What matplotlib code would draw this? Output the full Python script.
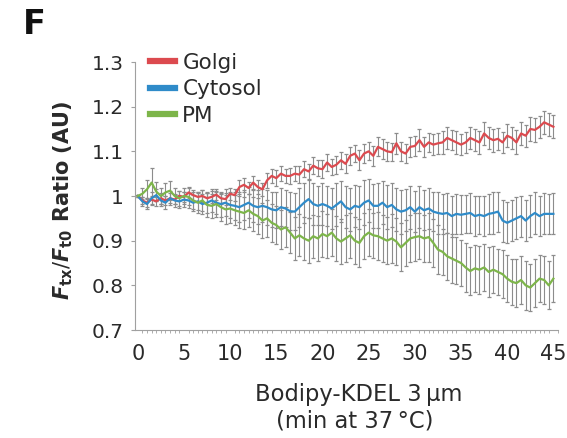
import numpy as np
import matplotlib
matplotlib.use("Agg")
import matplotlib.pyplot as plt
from matplotlib.ticker import MultipleLocator

plt.rcParams['font.family'] = ['DejaVu Sans']
plt.rcParams['mathtext.fontset'] = 'custom'
plt.rcParams['mathtext.rm'] = 'DejaVu Sans'
plt.rcParams['mathtext.it'] = 'DejaVu Sans:italic'
plt.rcParams['mathtext.bf'] = 'DejaVu Sans:bold'
try:
    plt.rcParams['mathtext.bfit'] = 'DejaVu Sans:italic:bold'
except KeyError:
    pass

time_min = np.arange(0, 45.01, 0.5)

golgi = [1.000, 0.990, 0.985, 0.992, 0.988, 0.995, 0.990, 0.995, 0.992, 1.000,
         0.998, 1.008, 1.002, 0.998, 1.000, 0.995, 0.998, 1.003, 0.995, 0.993,
         1.005, 1.002, 1.020, 1.025, 1.018, 1.030, 1.020, 1.015, 1.035, 1.045,
         1.040, 1.050, 1.045, 1.045, 1.050, 1.048, 1.060, 1.055, 1.068, 1.062,
         1.060, 1.075, 1.065, 1.070, 1.080, 1.072, 1.090, 1.095, 1.080, 1.095,
         1.100, 1.090, 1.110, 1.105, 1.100, 1.098, 1.118, 1.100, 1.095, 1.110,
         1.112, 1.125, 1.110, 1.120, 1.115, 1.118, 1.120, 1.130, 1.125, 1.120,
         1.115, 1.120, 1.130, 1.125, 1.120, 1.140, 1.130, 1.125, 1.128, 1.120,
         1.135, 1.130, 1.120, 1.140, 1.135, 1.150, 1.148, 1.155, 1.165, 1.160,
         1.155]
golgi_err = [0.003, 0.008, 0.010, 0.009, 0.010, 0.012, 0.010, 0.011, 0.010, 0.012,
             0.012, 0.013, 0.011, 0.012, 0.013, 0.012, 0.014, 0.013, 0.012, 0.013,
             0.014, 0.013, 0.015, 0.016, 0.014, 0.015, 0.016, 0.015, 0.017, 0.016,
             0.018, 0.017, 0.016, 0.018, 0.017, 0.019, 0.018, 0.017, 0.019, 0.018,
             0.020, 0.019, 0.018, 0.020, 0.019, 0.021, 0.020, 0.019, 0.022, 0.021,
             0.020, 0.022, 0.021, 0.023, 0.022, 0.020, 0.024, 0.022, 0.021, 0.023,
             0.022, 0.024, 0.023, 0.022, 0.024, 0.023, 0.025, 0.024, 0.023, 0.025,
             0.024, 0.023, 0.025, 0.024, 0.026, 0.025, 0.024, 0.026, 0.025, 0.024,
             0.026, 0.025, 0.027, 0.026, 0.025, 0.027, 0.026, 0.025, 0.026, 0.025,
             0.026]

cytosol = [1.000, 0.988, 0.982, 0.995, 1.002, 0.990, 0.985, 0.995, 0.990, 0.988,
           0.992, 0.990, 0.985, 0.988, 0.982, 0.985, 0.990, 0.985, 0.982, 0.985,
           0.980, 0.978, 0.975, 0.980, 0.985, 0.978, 0.975, 0.978, 0.975, 0.970,
           0.968, 0.975, 0.972, 0.966, 0.965, 0.975, 0.985, 0.993, 0.982, 0.978,
           0.982, 0.978, 0.972, 0.980, 0.988, 0.975, 0.970, 0.978, 0.975, 0.985,
           0.990, 0.978, 0.978, 0.985, 0.975, 0.980, 0.970, 0.965, 0.968, 0.975,
           0.965, 0.975, 0.968, 0.972, 0.965, 0.962, 0.960, 0.962, 0.955, 0.960,
           0.958, 0.960, 0.962, 0.955, 0.958, 0.955, 0.960, 0.962, 0.965, 0.945,
           0.940, 0.945, 0.950, 0.955, 0.945, 0.955, 0.962, 0.955, 0.960, 0.960,
           0.960]
cytosol_err = [0.003, 0.010, 0.012, 0.015, 0.014, 0.013, 0.015, 0.016, 0.014, 0.015,
               0.016, 0.017, 0.018, 0.020, 0.022, 0.024, 0.025, 0.026, 0.028, 0.030,
               0.030, 0.032, 0.034, 0.033, 0.035, 0.036, 0.038, 0.037, 0.039, 0.040,
               0.040, 0.042, 0.041, 0.043, 0.042, 0.044, 0.045, 0.043, 0.046, 0.044,
               0.047, 0.045, 0.046, 0.048, 0.046, 0.047, 0.049, 0.047, 0.048, 0.050,
               0.048, 0.049, 0.050, 0.048, 0.049, 0.050, 0.048, 0.049, 0.047, 0.048,
               0.046, 0.047, 0.045, 0.046, 0.044, 0.046, 0.045, 0.044, 0.046, 0.045,
               0.044, 0.043, 0.045, 0.044, 0.043, 0.045, 0.044, 0.046, 0.045, 0.047,
               0.046, 0.045, 0.047, 0.046, 0.045, 0.047, 0.046, 0.045, 0.046, 0.045,
               0.046]

pm = [1.000, 1.005, 1.015, 1.030, 1.010, 1.000, 1.008, 1.012, 1.000, 0.995,
      1.000, 0.998, 0.990, 0.985, 0.990, 0.980, 0.978, 0.982, 0.975, 0.970,
      0.972, 0.968, 0.965, 0.962, 0.968, 0.960, 0.955, 0.945, 0.950, 0.940,
      0.935, 0.925, 0.930, 0.918, 0.905, 0.912, 0.905, 0.900, 0.910, 0.905,
      0.915, 0.910, 0.918, 0.905, 0.898, 0.905, 0.912, 0.900, 0.895, 0.910,
      0.918, 0.912, 0.910, 0.905, 0.900, 0.905, 0.898, 0.885, 0.895, 0.905,
      0.908, 0.910, 0.905, 0.908, 0.895, 0.880, 0.875, 0.865, 0.860, 0.855,
      0.850, 0.840, 0.832, 0.838, 0.835, 0.840, 0.830, 0.835, 0.830, 0.825,
      0.815, 0.808, 0.805, 0.812, 0.800, 0.795, 0.805, 0.815, 0.812, 0.800,
      0.815]
pm_err = [0.003, 0.012, 0.020, 0.032, 0.022, 0.018, 0.020, 0.022, 0.018, 0.017,
          0.018, 0.019, 0.020, 0.022, 0.024, 0.026, 0.027, 0.028, 0.030, 0.032,
          0.033, 0.034, 0.036, 0.035, 0.037, 0.038, 0.040, 0.039, 0.041, 0.042,
          0.043, 0.044, 0.045, 0.046, 0.048, 0.047, 0.049, 0.050, 0.048, 0.050,
          0.051, 0.049, 0.052, 0.050, 0.051, 0.053, 0.051, 0.052, 0.054, 0.052,
          0.053, 0.051, 0.054, 0.052, 0.053, 0.055, 0.053, 0.054, 0.052, 0.053,
          0.054, 0.052, 0.053, 0.055, 0.053, 0.054, 0.052, 0.053, 0.055, 0.053,
          0.052, 0.054, 0.053, 0.052, 0.054, 0.053, 0.055, 0.053, 0.052, 0.054,
          0.053, 0.052, 0.054, 0.053, 0.055, 0.053, 0.054, 0.052, 0.053, 0.054,
          0.053]

series = [("Golgi", golgi, golgi_err, "#dc4a4f"),
          ("Cytosol", cytosol, cytosol_err, "#2f8bc9"),
          ("PM", pm, pm_err, "#7db54a")]

TXT = '#2a2a2a'
W, H = 567, 438
fig = plt.figure(figsize=(W / 100, H / 100), dpi=100)
ax = fig.add_axes([135 / W, 1 - 330 / H, (558 - 135) / W, (330 - 62) / H])

for name, vals, err, col in series:
    _, caps, _ = ax.errorbar(time_min, vals, yerr=err, fmt='none', ecolor='#8c8c8c',
                             elinewidth=0.8, capsize=1.3, capthick=0.9, zorder=1)
    for c in caps:
        c.set_color('#333333')
for name, vals, err, col in series:
    ax.plot(time_min, vals, color=col, lw=1.6, label=name, zorder=3)

ax.set_xlim(-0.3, 45.5)
ax.set_ylim(0.7, 1.3)
ax.set_yticks([0.7, 0.8, 0.9, 1.0, 1.1, 1.2, 1.3])
ax.set_yticklabels(["0.7", "0.8", "0.9", "1", "1.1", "1.2", "1.3"])
ax.set_xticks(np.arange(0, 46, 5))
ax.xaxis.set_minor_locator(MultipleLocator(0.5))

for s in ["top", "right"]:
    ax.spines[s].set_visible(False)
for s in ["left", "bottom"]:
    ax.spines[s].set_color("#a0a0a0")
    ax.spines[s].set_linewidth(0.8)

ax.tick_params(axis='y', which='major', length=3, color='#a0a0a0',
               labelsize=14.5, labelcolor=TXT, pad=5)
ax.tick_params(axis='x', which='major', length=0, labelsize=15,
               labelcolor=TXT, pad=10)
ax.tick_params(axis='x', which='minor', length=2, color='#a0a0a0', width=0.6)

leg = ax.legend(loc='upper left', bbox_to_anchor=(0.0, 1.09), frameon=False,
                fontsize=15.5, handlelength=1.15, handletextpad=0.35,
                labelspacing=0.30, borderaxespad=0.3)
for line in leg.get_lines():
    line.set_linewidth(4.5)
for t in leg.get_texts():
    t.set_color(TXT)

fig.text(63 / W, 1 - 200 / H,
         r"$\mathbfit{F}_{\mathbf{tx}}/\mathbfit{F}_{\mathbf{t0}}$ Ratio (AU)",
         rotation=90, ha='center', va='center', fontsize=15,
         fontweight='bold', color=TXT)

fig.text(359 / W, 1 - 401 / H, "Bodipy-KDEL 3\u2009\u00b5m", ha='center',
         va='baseline', fontsize=16.3, color=TXT)
fig.text(355 / W, 1 - 428 / H, "(min at 37\u2009\u00b0C)", ha='center',
         va='baseline', fontsize=16.3, color=TXT)

fig.text(23 / W, 1 - 25 / H, "F", ha='left', va='center', fontsize=24,
         fontweight='bold', color='#111111')

fig.savefig("out.png", dpi=100)
